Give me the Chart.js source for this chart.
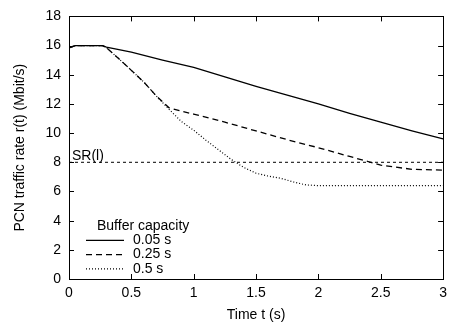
<!DOCTYPE html>
<html>
<head>
<meta charset="utf-8">
<script src="https://cdn.jsdelivr.net/npm/chart.js@4/dist/chart.umd.min.js"></script>
<style>
  body { margin: 0; background: #fff; }
  #wrap { width: 453px; height: 327px; }
</style>
</head>
<body>
<div id="wrap"><canvas id="rateChart" width="453" height="327"></canvas></div>
<script>
// time (s) and rate (Mbit/s)
const tSolid = [0, 0.05, 0.27, 0.3, 0.5, 0.75, 1, 1.25, 1.5, 1.75, 2, 2.25, 2.5, 2.75, 3];
const rSolid = [15.85, 16, 16, 15.9, 15.55, 15.0, 14.5, 13.85, 13.2, 12.6, 12.0, 11.35, 10.75, 10.15, 9.6];

const tDashed = [0, 0.05, 0.27, 0.3, 0.4, 0.5, 0.6, 0.7, 0.8, 0.9, 1, 1.25, 1.5, 1.75, 2, 2.25, 2.4, 2.5, 2.75, 3];
const rDashed = [15.85, 16, 16, 15.85, 15.1, 14.3, 13.5, 12.55, 11.75, 11.5, 11.3, 10.75, 10.15, 9.55, 9.0, 8.4, 8.05, 7.8, 7.52, 7.46];

const tDotted = [0, 0.05, 0.27, 0.3, 0.4, 0.5, 0.6, 0.7, 0.8, 0.9, 1, 1.1, 1.2, 1.3, 1.4, 1.5, 1.6, 1.7, 1.8, 1.9, 2, 2.5, 3];
const rDotted = [15.85, 16, 16, 15.85, 15.1, 14.3, 13.5, 12.55, 11.65, 10.8, 10.2, 9.5, 8.85, 8.2, 7.65, 7.25, 7.05, 6.9, 6.65, 6.45, 6.4, 6.4, 6.4];

const srRate = 8;
const seriesLabels = ['0.05 s', '0.25 s', '0.5 s'];
const legendTitle = 'Buffer capacity';

const FONT = "'Liberation Sans', Arial, Helvetica, sans-serif";

function pts(xs, ys) {
    return xs.map((x, i) => ({ x: x, y: ys[i] }));
}

// box around plot with gnuplot-style inward ticks
const frame = {
    id: 'frame',
    afterDatasetsDraw(chart) {
        const ctx = chart.ctx;
        const a = chart.chartArea;
        const xs = chart.scales.x, ys = chart.scales.y;
        const len = 5;
        ctx.save();
        ctx.strokeStyle = '#000';
        ctx.lineWidth = 1;
        ctx.strokeRect(Math.round(a.left) + 0.5, Math.round(a.top) + 0.5,
            Math.round(a.right - a.left), Math.round(a.bottom - a.top));
        ctx.beginPath();
        xs.ticks.forEach(t => {
            const p = Math.round(xs.getPixelForValue(t.value)) + 0.5;
            ctx.moveTo(p, a.bottom); ctx.lineTo(p, a.bottom - len);
            ctx.moveTo(p, a.top); ctx.lineTo(p, a.top + len);
        });
        ys.ticks.forEach(t => {
            const p = Math.round(ys.getPixelForValue(t.value)) + 0.5;
            ctx.moveTo(a.left, p); ctx.lineTo(a.left + len, p);
            ctx.moveTo(a.right, p); ctx.lineTo(a.right - len, p);
        });
        ctx.stroke();

        // SR(l) label over the threshold line
        ctx.fillStyle = '#000';
        ctx.font = '14px ' + FONT;
        ctx.textBaseline = 'alphabetic';
        ctx.textAlign = 'left';
        ctx.fillText('SR(l)', xs.getPixelForValue(0) + 3, ys.getPixelForValue(srRate) - 2);

        // legend in lower left corner
        const lx = a.left + 17, ly = a.bottom - 53;
        ctx.textBaseline = 'middle';
        ctx.fillText(legendTitle, a.left + 28, ly);
        chart.data.datasets.slice(0, 3).forEach((ds, i) => {
            const y = ly + 14.3 * (i + 1);
            ctx.save();
            ctx.strokeStyle = ds.borderColor;
            ctx.lineWidth = ds.borderWidth;
            ctx.setLineDash(ds.borderDash || []);
            ctx.beginPath();
            ctx.moveTo(lx, y); ctx.lineTo(lx + 38, y);
            ctx.stroke();
            ctx.restore();
            ctx.fillText(ds.label, lx + 47, y);
        });
        ctx.restore();
    }
};

new Chart(document.getElementById('rateChart'), {
    type: 'line',
    data: {
        datasets: [{
            label: seriesLabels[0],
            data: pts(tSolid, rSolid),
            borderColor: '#000',
            borderWidth: 1.3,
            pointRadius: 0
        }, {
            label: seriesLabels[1],
            data: pts(tDashed, rDashed),
            borderColor: '#000',
            borderWidth: 1.3,
            borderDash: [6, 4],
            pointRadius: 0
        }, {
            label: seriesLabels[2],
            data: pts(tDotted, rDotted),
            borderColor: '#000',
            borderWidth: 1.2,
            borderDash: [1, 2],
            pointRadius: 0
        }, {
            label: 'SR(l)',
            data: [{ x: 0, y: srRate }, { x: 3, y: srRate }],
            borderColor: '#000',
            borderWidth: 1,
            borderDash: [3, 3],
            pointRadius: 0
        }]
    },
    options: {
        responsive: false,
        animation: false,
        layout: { padding: { top: 15, right: 9, left: 0, bottom: 0 } },
        plugins: {
            legend: { display: false },
            tooltip: { enabled: false }
        },
        scales: {
            x: {
                type: 'linear',
                min: 0,
                max: 3,
                afterFit: s => { s.height = 48; },
                ticks: { stepSize: 0.5, color: '#000', padding: 6, font: { family: FONT, size: 14 },
                    callback: v => String(v) },
                grid: { drawOnChartArea: false, drawTicks: false },
                border: { display: false },
                title: { display: true, text: 'Time t (s)', color: '#000', padding: { top: 0, bottom: 3 }, font: { family: FONT, size: 14 } }
            },
            y: {
                min: 0,
                max: 18,
                afterFit: s => { s.width = 69; },
                ticks: { stepSize: 2, color: '#000', padding: 8, font: { family: FONT, size: 14 } },
                grid: { drawOnChartArea: false, drawTicks: false },
                border: { display: false },
                title: { display: true, text: 'PCN traffic rate r(t) (Mbit/s)', color: '#000', padding: { top: 12, bottom: 0 }, font: { family: FONT, size: 14 } }
            }
        }
    },
    plugins: [frame]
});
</script>
</body>
</html>
